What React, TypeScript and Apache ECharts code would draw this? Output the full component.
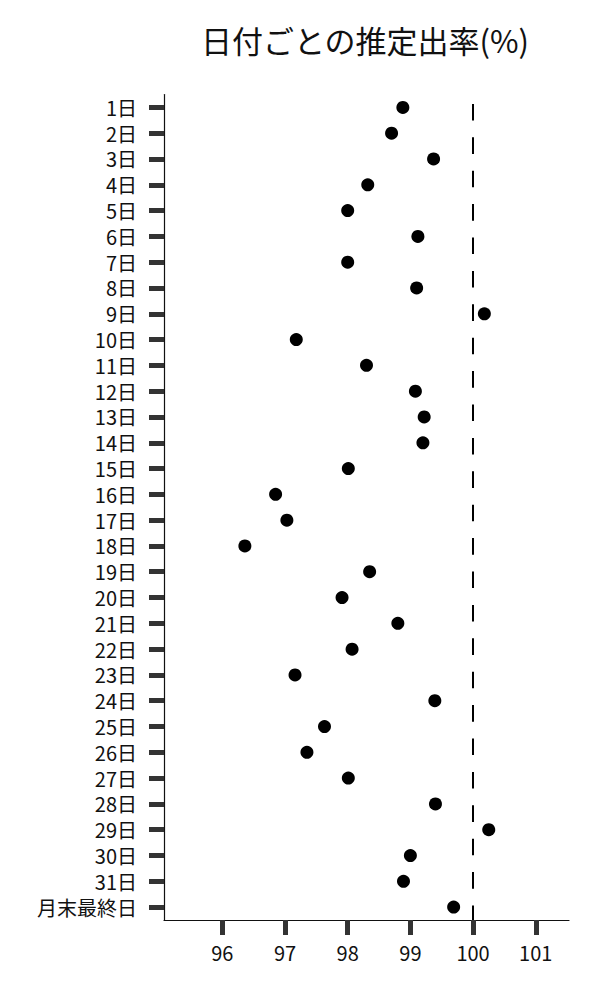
import React, { useEffect, useRef } from "react";
import * as echarts from "echarts";

const days = [
  "1日", "2日", "3日", "4日", "5日", "6日", "7日", "8日", "9日", "10日",
  "11日", "12日", "13日", "14日", "15日", "16日", "17日", "18日", "19日", "20日",
  "21日", "22日", "23日", "24日", "25日", "26日", "27日", "28日", "29日", "30日",
  "31日", "月末最終日",
];

const rates = [
  98.88, 98.7, 99.37, 98.32, 98.0, 99.12, 98.0, 99.1, 100.18, 97.18,
  98.3, 99.08, 99.22, 99.2, 98.01, 96.85, 97.03, 96.36, 98.35, 97.91,
  98.8, 98.07, 97.16, 99.39, 97.63, 97.35, 98.01, 99.4, 100.25, 99.0,
  98.89, 99.69,
];

const xTicks = [96, 97, 98, 99, 100, 101];
const refValue = 100;

const font = '"Noto Sans CJK JP", "Noto Sans", sans-serif';

const App = () => {
  const chartRef = useRef<HTMLDivElement>(null);

  useEffect(() => {
    document.body.style.margin = "0";
    if (!chartRef.current) return;

    const myChart = echarts.init(chartRef.current, null, { renderer: "svg" });
    myChart.setOption({
      animation: false,
      title: {
        text: "日付ごとの推定出率(%)",
        left: 360,
        textAlign: "center",
        top: 19,
        textStyle: { fontFamily: font, fontSize: 31, fontWeight: "normal", color: "#111" },
      },
      grid: { left: 164, right: 31, top: 94.5, bottom: 80 },
      xAxis: {
        type: "value",
        min: 95.07,
        max: 101.53,
        splitLine: { show: false },
        axisLine: { show: true, lineStyle: { color: "#111", width: 1.2 } },
        axisTick: {
          show: true,
          customValues: xTicks,
          length: 15,
          lineStyle: { color: "#333", width: 5 },
        },
        axisLabel: {
          customValues: xTicks,
          margin: 22,
          fontFamily: font,
          fontSize: 20,
          color: "#111",
        },
      },
      yAxis: {
        type: "category",
        data: days,
        inverse: true,
        axisLine: { show: true, lineStyle: { color: "#111", width: 1.2 } },
        axisTick: {
          show: true,
          alignWithLabel: true,
          interval: 0,
          length: 15,
          lineStyle: { color: "#333", width: 5 },
        },
        axisLabel: {
          interval: 0,
          margin: 27,
          fontFamily: font,
          fontSize: 20,
          lineHeight: 20,
          color: "#111",
        },
        splitLine: { show: false },
      },
      series: [
        {
          type: "scatter",
          symbolSize: 13,
          itemStyle: { color: "#000", opacity: 1 },
          data: rates.map((v, i) => [v, days[i]]),
          markLine: {
            silent: true,
            symbol: "none",
            label: { show: false },
            lineStyle: {
              color: "#000",
              width: 2,
              type: [16.6, 16.8],
              dashOffset: 23.7,
            },
            data: [{ xAxis: refValue }],
          },
        },
      ],
    });

    return () => {
      myChart.dispose();
    };
  }, []);

  return <div ref={chartRef} style={{ width: "600px", height: "1000px" }}></div>;
};

export default App;
